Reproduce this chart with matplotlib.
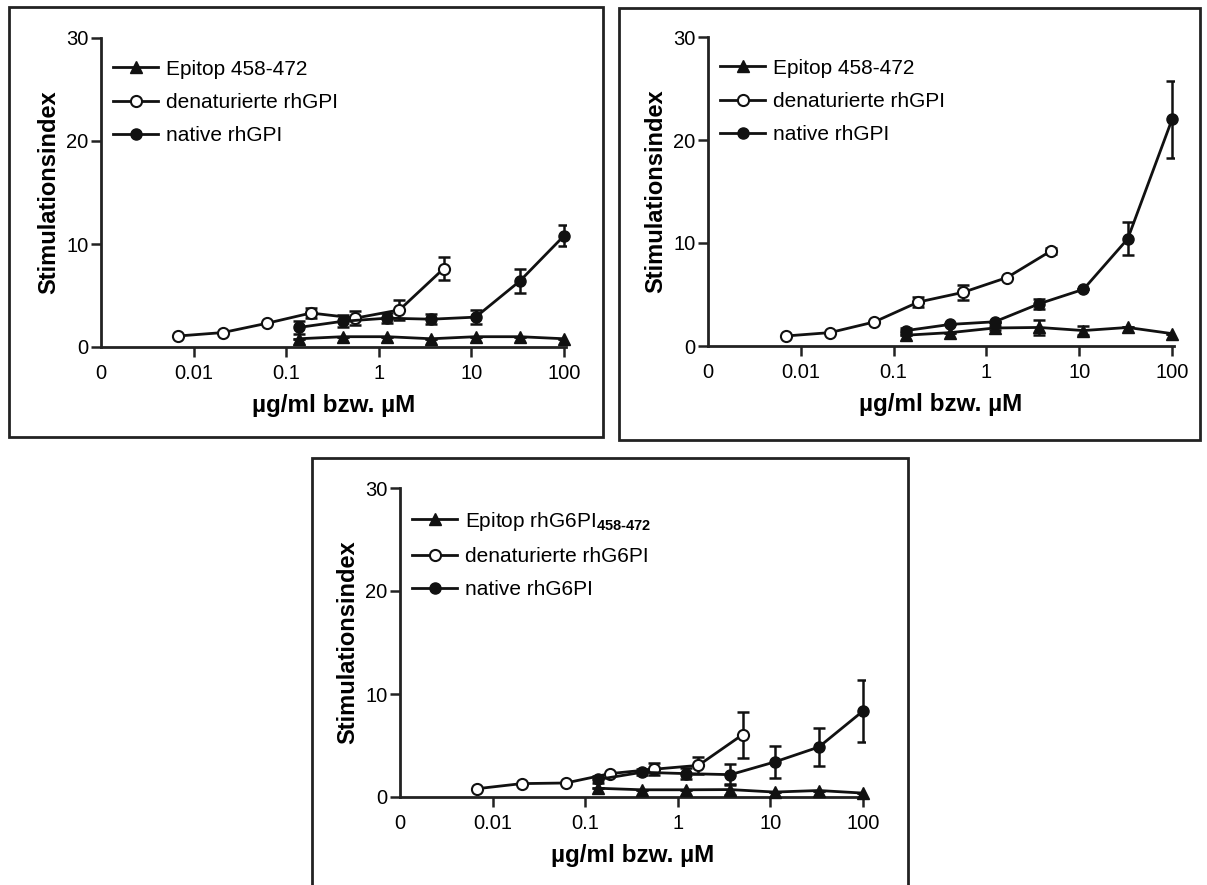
import matplotlib
matplotlib.use('Agg')
import matplotlib.pyplot as plt
from matplotlib.patches import Rectangle
from matplotlib.ticker import FixedLocator, FixedFormatter, NullLocator

plt.rcParams['font.family'] = ['Liberation Sans', 'DejaVu Sans']
plt.rcParams['mathtext.fontset'] = 'custom'
plt.rcParams['mathtext.rm'] = 'Liberation Sans'
plt.rcParams['mathtext.bf'] = 'Liberation Sans:bold'

# concentrations (3-fold dilution series)
x_native = [0.137, 0.41, 1.23, 3.7, 11.1, 33.3, 100]
x_denat = [0.00686, 0.0206, 0.0617, 0.185, 0.556, 1.67, 5]

# panel 1
p1_epitop = [0.8, 1.0, 1.0, 0.8, 1.0, 1.0, 0.8]
p1_epitop_err = [0, 0, 0, 0, 0, 0, 0]
p1_denat = [1.07, 1.4, 2.3, 3.3, 2.8, 3.6, 7.6]
p1_denat_err = [0, 0, 0, 0.5, 0.7, 1.0, 1.1]
p1_native = [1.9, 2.5, 2.8, 2.7, 2.9, 6.4, 10.8]
p1_native_err = [0.6, 0.6, 0.5, 0.5, 0.7, 1.2, 1.0]

# panel 2
p2_epitop = [1.05, 1.3, 1.75, 1.8, 1.5, 1.8, 1.2]
p2_epitop_err = [0, 0, 0.2, 0.75, 0.4, 0, 0]
p2_denat = [0.97, 1.3, 2.33, 4.27, 5.2, 6.65, 9.25]
p2_denat_err = [0, 0, 0, 0.5, 0.75, 0, 0.3]
p2_native = [1.5, 2.1, 2.35, 4.1, 5.5, 10.4, 22.0]
p2_native_err = [0.2, 0, 0, 0.5, 0, 1.6, 3.7]

# panel 3
p3_epitop = [0.85, 0.7, 0.7, 0.72, 0.48, 0.63, 0.38]
p3_epitop_err = [0, 0, 0, 0.5, 0, 0, 0]
p3_denat = [0.81, 1.3, 1.36, 2.27, 2.7, 3.07, 6.05]
p3_denat_err = [0, 0, 0, 0, 0.6, 0.8, 2.25]
p3_native = [1.7, 2.4, 2.27, 2.17, 3.4, 4.85, 8.35]
p3_native_err = [0.3, 0.3, 0.5, 1.05, 1.55, 1.85, 3.0]

labels_12 = ['Epitop 458-472', 'denaturierte rhGPI', 'native rhGPI']
labels_3 = ['Epitop rhG6PI$_{\\mathbf{458\u2010472}}$', 'denaturierte rhG6PI', 'native rhG6PI']

xtick_vals = [0.001, 0.01, 0.1, 1, 10, 100]
xtick_labels = ['0', '0.01', '0.1', '1', '10', '100']

W, H = 1207, 885
fig = plt.figure(figsize=(W / 100, H / 100), dpi=100)


def px_rect(left, top, right, bottom):
    return [left / W, 1 - bottom / H, (right - left) / W, (bottom - top) / H]


def draw_panel(rect, epi, epi_err, den, den_err, nat, nat_err, labels):
    ax = fig.add_axes(rect)
    ax.set_xscale('log')
    lc = '#111111'
    for xs, ys, es in [(x_native, epi, epi_err), (x_denat, den, den_err), (x_native, nat, nat_err)]:
        ax.errorbar(xs, ys, yerr=es, fmt='none', ecolor=lc, elinewidth=1.8,
                    capsize=4, capthick=1.8, zorder=2)
    h1, = ax.plot(x_native, epi, '-^', color=lc, lw=2, ms=8, mfc=lc, mec=lc,
                  label=labels[0], zorder=3, clip_on=False)
    h2, = ax.plot(x_denat, den, '-o', color=lc, lw=2, ms=8, mfc='white', mec=lc,
                  mew=1.5, label=labels[1], zorder=3, clip_on=False)
    h3, = ax.plot(x_native, nat, '-o', color=lc, lw=2, ms=8, mfc=lc, mec=lc,
                  label=labels[2], zorder=3, clip_on=False)

    ax.set_xlim(0.001, 105)
    ax.set_ylim(0, 30)
    ax.xaxis.set_major_locator(FixedLocator(xtick_vals))
    ax.xaxis.set_major_formatter(FixedFormatter(xtick_labels))
    ax.xaxis.set_minor_locator(NullLocator())
    ax.set_yticks([0, 10, 20, 30])
    for s in ['top', 'right']:
        ax.spines[s].set_visible(False)
    for s in ['left', 'bottom']:
        ax.spines[s].set_linewidth(2)
        ax.spines[s].set_color('#222222')
    ax.tick_params(axis='both', direction='out', length=7, width=1.8, color='#222222',
                   labelsize=14.5, pad=5)
    ax.tick_params(axis='y', pad=2)
    ax.xaxis.get_major_ticks()[0].tick1line.set_visible(False)

    ax.set_xlabel('µg/ml bzw. µM', fontsize=17.5, fontweight='bold', labelpad=8)
    ax.set_ylabel('Stimulationsindex', fontsize=17, fontweight='bold', labelpad=4)

    ax.legend(handles=[h1, h2, h3], loc='upper left', bbox_to_anchor=(0.025, 0.93),
              frameon=False, fontsize=15, handlelength=2.2, handletextpad=0.35,
              labelspacing=0.68, borderaxespad=0, borderpad=0)
    return ax


draw_panel(px_rect(101, 38, 566, 347), p1_epitop, p1_epitop_err, p1_denat, p1_denat_err,
           p1_native, p1_native_err, labels_12)
draw_panel(px_rect(708, 37, 1174, 346), p2_epitop, p2_epitop_err, p2_denat, p2_denat_err,
           p2_native, p2_native_err, labels_12)
draw_panel(px_rect(400, 488, 865, 797), p3_epitop, p3_epitop_err, p3_denat, p3_denat_err,
           p3_native, p3_native_err, labels_3)

# frames around the panels
for (l, t, r, b) in [(9, 7, 603, 437), (619, 8, 1200, 440), (312, 458, 908, 895)]:
    fig.add_artist(Rectangle((l / W, 1 - b / H), (r - l) / W, (b - t) / H,
                             transform=fig.transFigure, fill=False,
                             edgecolor='#222222', linewidth=2))

fig.savefig('out.png', dpi=100, facecolor='white')
